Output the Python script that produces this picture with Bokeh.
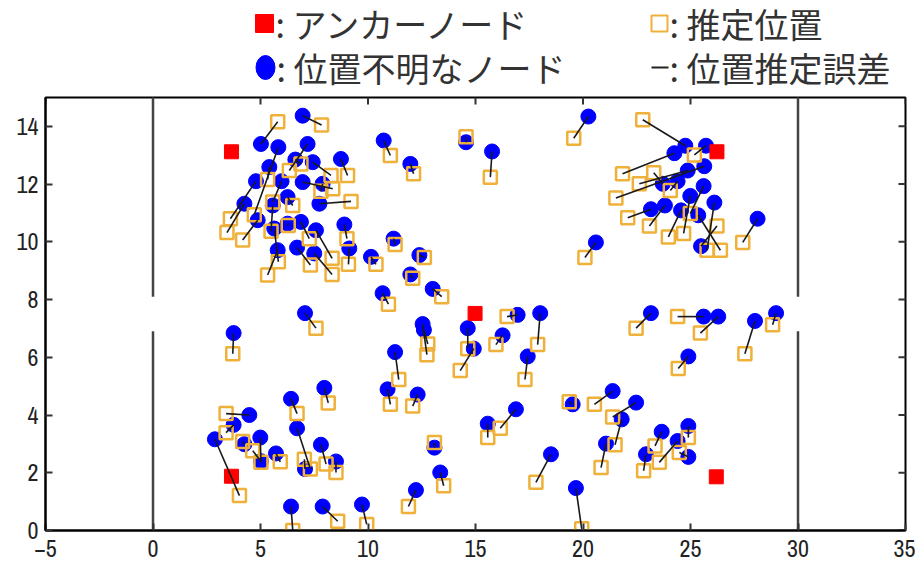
import math
from bokeh.plotting import figure
from bokeh.models import Range1d, FixedTicker, ColumnDataSource
from bokeh.layouts import column
from bokeh.embed import file_html
from bokeh.resources import INLINE
from bokeh.core.properties import value

# ---------------- data ----------------
anchor_x = [3.65, 14.98, 26.23, 3.65, 26.2]
anchor_y = [13.12, 7.52, 13.12, 1.88, 1.86]

true_x = [6.96, 5.02, 5.83, 7.19, 6.62, 7.43, 8.74, 5.41, 4.79, 4.25, 4.87, 5.98, 6.96, 7.89,
          6.26, 7.74, 5.57, 6.26, 6.88, 7.58, 8.90, 9.13, 5.64, 5.80, 6.70, 7.50,
          10.73, 11.97, 14.56, 15.77, 20.25, 20.60, 11.19, 12.39, 10.14, 11.97, 10.68, 13.01,
          24.76, 25.72, 24.25, 24.87, 25.64, 23.71, 24.40, 25.61, 24.99, 24.56, 23.16, 23.81,
          26.11, 25.36, 25.49, 28.12,
          3.75, 7.07, 11.26, 10.91, 7.97, 6.42, 4.48, 18.01, 16.96, 16.26, 14.64, 14.92,
          12.54, 12.60, 17.43, 23.16, 25.61, 26.29, 28.00, 28.98, 24.90, 12.31, 16.88, 19.52,
          21.38, 22.47, 15.57,
          21.80, 21.07, 23.66, 22.93, 24.40, 24.90, 24.90, 13.09, 13.36, 12.23, 18.51, 19.67,
          3.75, 2.88, 4.25, 4.99, 5.02, 5.72, 6.70, 7.07, 7.81, 8.51, 6.42, 7.89, 9.72]
true_y = [14.37, 13.39, 13.28, 13.39, 12.85, 12.76, 12.87, 12.59, 12.10, 11.32, 10.75, 12.10, 12.07, 12.01,
          11.55, 11.32, 11.26, 10.63, 10.69, 10.40, 10.60, 9.77, 10.46, 9.71, 9.80, 9.60,
          13.51, 12.70, 13.45, 13.13, 14.34, 9.98, 10.11, 9.54, 9.48, 8.87, 8.22, 8.37,
          13.33, 13.33, 13.07, 12.47, 12.62, 12.01, 12.10, 11.93, 11.59, 11.09, 11.13, 11.26,
          11.36, 10.92, 9.85, 10.80,
          6.84, 7.53, 6.18, 4.89, 4.94, 4.56, 4.00, 7.53, 7.47, 6.76, 7.01, 6.30,
          7.15, 6.95, 6.03, 7.53, 7.41, 7.41, 7.26, 7.53, 6.03, 4.71, 4.20, 4.37,
          4.83, 4.43, 3.70,
          3.85, 3.01, 3.42, 2.64, 3.10, 3.62, 2.55, 2.87, 2.01, 1.40, 2.64, 1.47,
          3.66, 3.16, 2.99, 3.22, 2.40, 2.67, 3.54, 2.13, 2.97, 2.39, 0.83, 0.83, 0.90]
est_x = [7.84, 5.80, 4.71, 6.34, 6.88, 8.28, 9.05, 5.33, 3.60, 3.44, 4.17, 5.57, 8.36, 7.81,
         6.50, 9.21, 5.49, 6.29, 7.27, 8.33, 9.02, 9.09, 5.83, 5.33, 7.32, 8.33,
         11.04, 12.12, 14.56, 15.69, 19.57, 20.09, 11.26, 12.62, 10.37, 12.08, 10.95, 13.43,
         22.78, 25.18, 21.84, 22.62, 21.53, 23.29, 24.06, 24.99, 24.68, 23.97, 22.08, 23.09,
         25.77, 26.39, 26.23, 27.43,
         3.71, 7.58, 11.43, 11.04, 8.15, 6.70, 3.40, 17.89, 16.47, 15.95, 14.64, 14.29,
         12.74, 12.78, 17.30, 22.47, 24.40, 25.46, 27.53, 28.82, 24.43, 12.08, 16.15, 19.36,
         20.53, 21.38, 15.57,
         21.49, 20.84, 23.35, 22.82, 23.55, 24.90, 24.48, 13.09, 13.52, 11.88, 17.81, 19.94,
         3.40, 4.02, 4.17, 5.02, 4.64, 5.92, 7.32, 7.04, 8.05, 8.51, 6.50, 8.59, 9.94]
est_y = [14.05, 14.16, 10.94, 12.47, 12.70, 12.30, 12.30, 12.16, 10.80, 10.32, 10.06, 11.38, 11.84, 11.75,
         11.26, 11.40, 10.37, 10.57, 10.11, 9.43, 10.11, 9.22, 9.31, 8.85, 9.20, 8.87,
         12.99, 12.36, 13.64, 12.24, 13.59, 9.46, 9.91, 9.46, 9.22, 8.74, 7.84, 8.10,
         14.23, 13.01, 12.36, 12.01, 11.52, 12.39, 11.78, 10.98, 10.29, 10.17, 10.83, 10.55,
         9.71, 9.71, 10.55, 9.98,
         6.12, 7.01, 5.23, 4.37, 4.42, 4.05, 4.05, 6.44, 7.41, 6.44, 6.30, 5.54,
         6.09, 6.46, 5.23, 7.01, 7.41, 6.84, 6.12, 7.13, 5.61, 4.31, 3.54, 4.46,
         4.37, 3.93, 3.22,
         2.97, 2.18, 2.93, 2.07, 2.36, 3.22, 2.70, 3.05, 1.55, 0.83, 1.67, 0.06,
         3.39, 1.21, 3.08, 2.36, 2.76, 2.38, 2.13, 2.47, 2.30, 2.01, 0.00, 0.32, 0.21]

# walls (x position, bottom, top)
wall_x = [0, 0, 30, 30]
wall_y0 = [0, 8.1, 0, 8.1]
wall_y1 = [6.9, 15, 6.9, 15]

x_ticks = [-5, 0, 5, 10, 15, 20, 25, 30, 35]
y_ticks = [0, 2, 4, 6, 8, 10, 12, 14]

legend_labels = [": アンカーノード", ": 推定位置", ": 位置不明なノード", ": 位置推定誤差"]

RED = "#FF0000"
BLUE = "#0000FF"
ORANGE = "#EFB13A"
LINE = "#1a1a1a"
JP = value("Noto Sans CJK JP")

W = 915
LEG_H = 94
FRAME_L, FRAME_R = 45, 905   # page pixels of plot frame (frames are aligned in column)

# ---------------- legend figure ----------------
L = figure(width=W, height=LEG_H, x_range=Range1d(FRAME_L, FRAME_R), y_range=Range1d(LEG_H, 0),
           output_backend="svg", toolbar_location=None,
           min_border_left=FRAME_L, min_border_right=W - FRAME_R, min_border_top=0, min_border_bottom=0,
           x_axis_type=None, y_axis_type=None, outline_line_color=None)
L.grid.visible = False
L.scatter([264], [23], marker="square", size=18, fill_color=RED, line_color=RED)
L.scatter([659], [23], marker="square", size=16, fill_color=None, line_color=ORANGE, line_width=2)
L.ellipse([265], [67], width=19, height=24, width_units="screen", height_units="screen",
          fill_color=BLUE, line_color=BLUE)
L.segment([651], [67], [668], [67], line_color="#222222", line_width=2)
L.text([275, 669, 276, 669], [23, 23, 67, 67], text=legend_labels, text_font=JP,
       text_font_size="34px", text_baseline="middle", text_align="left", text_color="#333333")

# ---------------- main figure ----------------
p = figure(width=W, height=563 - LEG_H, x_range=Range1d(-5, 35), y_range=Range1d(0, 15),
           output_backend="svg", toolbar_location=None,
           min_border_left=FRAME_L, min_border_right=W - FRAME_R, min_border_top=97 - LEG_H,
           min_border_bottom=33)
p.grid.visible = False
p.outline_line_color = "black"
p.outline_line_width = 2

p.xaxis.ticker = FixedTicker(ticks=x_ticks)
p.yaxis.ticker = FixedTicker(ticks=y_ticks)
for ax in list(p.xaxis) + list(p.yaxis):
    ax.major_tick_in = 7
    ax.major_tick_out = 0
    ax.major_tick_line_width = 2
    ax.major_tick_line_color = "#333333"
    ax.minor_tick_line_color = None
    ax.axis_line_color = "black"
    ax.axis_line_width = 2
    ax.axis_label_standoff = 0
    ax.major_label_text_font = "Archivo Narrow"
    ax.major_label_text_font_size = "24px"
    ax.major_label_text_color = "#222222"
p.xaxis.major_label_standoff = 9
p.yaxis.major_label_standoff = 7

# inward ticks on the top and right edges
p.scatter(x=x_ticks, y=[p.y_range.end] * len(x_ticks), marker="dash", angle=math.pi / 2,
          size=14, line_color="#333333", line_width=2)
p.scatter(x=[p.x_range.end] * len(y_ticks), y=y_ticks, marker="dash",
          size=14, line_color="#333333", line_width=2)

# walls
p.segment(x0=wall_x, y0=wall_y0, x1=wall_x, y1=wall_y1, line_color="#444444", line_width=2.5)

src = ColumnDataSource(dict(tx=true_x, ty=true_y, ex=est_x, ey=est_y))
p.scatter("tx", "ty", source=src, marker="circle", size=15, fill_color=BLUE, line_color=BLUE)
p.scatter("ex", "ey", source=src, marker="square", size=13, fill_color=None,
          line_color=ORANGE, line_width=2.5)
p.scatter(anchor_x, anchor_y, marker="square", size=14, fill_color=RED, line_color=RED)
p.segment(x0="tx", y0="ty", x1="ex", y1="ey", source=src, line_color=LINE, line_width=1.6)

layout = column(L, p)
open("out.html", "w").write(file_html(layout, INLINE))
